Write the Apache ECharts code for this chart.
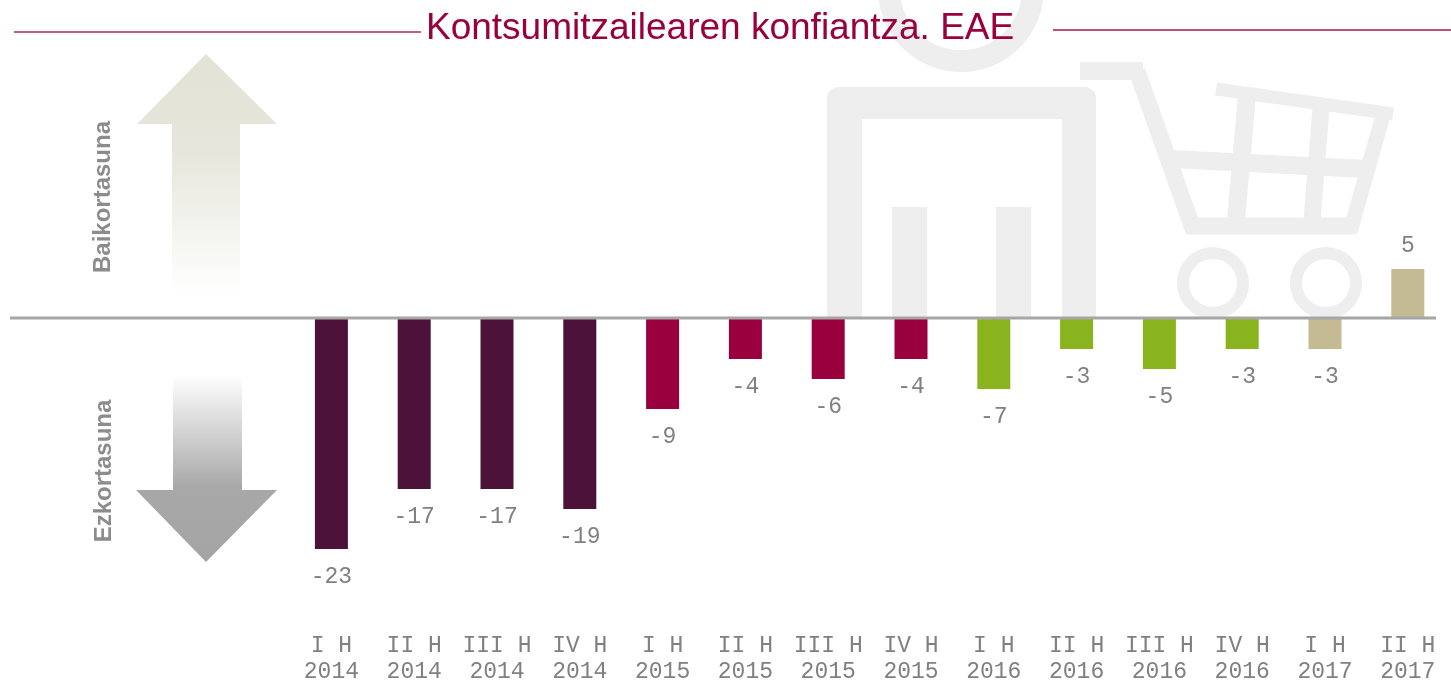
<!DOCTYPE html>
<html>
<head>
<meta charset="utf-8">
<style>html,body{margin:0;padding:0;background:#fff}#main{width:1451px;height:681px}</style>
<script src="https://cdn.jsdelivr.net/npm/echarts@6/dist/echarts.min.js"></script>
</head>
<body>
<div id="main"></div>
<script>
var categories = ['I H\n2014', 'II H\n2014', 'III H\n2014', 'IV H\n2014', 'I H\n2015', 'II H\n2015', 'III H\n2015', 'IV H\n2015', 'I H\n2016', 'II H\n2016', 'III H\n2016', 'IV H\n2016', 'I H\n2017', 'II H\n2017']
var values = [-23, -17, -17, -19, -9, -4, -6, -4, -7, -3, -5, -3, -3, 5]
var titleText = 'Kontsumitzailearen konfiantza. EAE'
var upText = 'Baikortasuna'
var downText = 'Ezkortasuna'

var yearColors = { 2014: '#4d1239', 2015: '#99003d', 2016: '#89b41e', 2017: '#c4ba94' }
var wmColor = '#eeeeee'

function wmLine(points, width) {
  return { type: 'polyline', z: 0, shape: { points: points }, style: { stroke: wmColor, lineWidth: width, fill: null } }
}
function wmRect(x, y, w, h, r) {
  return { type: 'rect', z: 0, shape: { x: x, y: y, width: w, height: h, r: r || 0 }, style: { fill: wmColor } }
}
function wmWheel(cx) {
  return { type: 'circle', z: 0, shape: { cx: cx, cy: 283, r: 30 }, style: { stroke: wmColor, lineWidth: 12, fill: null } }
}

var graphics = [
  // watermark, person
  { type: 'circle', z: 0, shape: { cx: 961, cy: -11, r: 72 }, style: { stroke: wmColor, lineWidth: 22, fill: null } },
  wmRect(827, 87, 269, 32, [12, 12, 0, 0]),
  wmRect(827, 87, 35, 231, [12, 0, 0, 0]),
  wmRect(1062, 87, 34, 231, [0, 12, 0, 0]),
  wmRect(892, 207, 35, 111),
  wmRect(996, 207, 35, 111),
  // watermark, cart
  wmLine([[1080, 71], [1143, 71]], 18),
  wmLine([[1137, 71], [1192, 226], [1355, 226]], 17),
  wmLine([[1216, 89], [1393, 114]], 13),
  wmLine([[1384, 112], [1350, 232]], 15),
  wmLine([[1172, 159], [1365, 169]], 18),
  wmLine([[1247, 95], [1236, 220]], 18),
  wmLine([[1321, 108], [1312, 220]], 17),
  wmWheel(1213),
  wmWheel(1326),
  // arrows
  {
    type: 'polygon', z: 1,
    shape: { points: [[206, 54], [277, 124], [240, 124], [240, 296], [172, 296], [172, 124], [137, 124]] },
    style: { fill: new echarts.graphic.LinearGradient(0, 0, 0, 1, [
      { offset: 0, color: '#e2e2d6' }, { offset: 0.4, color: '#e6e6dc' }, { offset: 1, color: '#ffffff' }
    ]) }
  },
  {
    type: 'polygon', z: 1,
    shape: { points: [[173, 375], [242, 375], [242, 490], [277, 490], [206, 562], [136, 490], [173, 490]] },
    style: { fill: new echarts.graphic.LinearGradient(0, 0, 0, 1, [
      { offset: 0, color: '#ffffff' }, { offset: 0.6, color: '#a8a8a8' }, { offset: 1, color: '#a4a4a4' }
    ]) }
  },
  // title rules
  { type: 'line', z: 1, shape: { x1: 14, y1: 32, x2: 421, y2: 32 }, style: { stroke: '#b2295f', lineWidth: 1.5 } },
  { type: 'line', z: 1, shape: { x1: 1053, y1: 30, x2: 1451, y2: 30 }, style: { stroke: '#a8144f', lineWidth: 1.5 } },
  // baseline
  { type: 'line', z: 5, shape: { x1: 10, y1: 318, x2: 1436, y2: 318 }, style: { stroke: '#a6a6a6', lineWidth: 3 } },
  // side labels
  {
    type: 'text', z: 2, x: 103, y: 197, rotation: Math.PI / 2,
    style: { text: upText, fill: '#8c8c8c', font: 'bold 24px "Liberation Sans"', align: 'center', verticalAlign: 'middle' }
  },
  {
    type: 'text', z: 2, x: 104, y: 471, rotation: Math.PI / 2,
    style: { text: downText, fill: '#8c8c8c', font: 'bold 24px "Liberation Sans"', align: 'center', verticalAlign: 'middle' }
  },
  {
    type: 'text', z: 2, x: 426, y: 29,
    style: { text: titleText, fill: '#99003d', font: '37px "Liberation Sans"', align: 'left', verticalAlign: 'middle' }
  }
]

// 5 sits a bit closer to its bar than the negative labels do
var barData = values.map(function(v) {
  return { value: v, label: { distance: v > 0 ? 12 : 16 } }
})

var chart = echarts.init(document.getElementById('main'))
chart.setOption({
  animation: false,
  backgroundColor: '#ffffff',
  grid: { left: 290, width: 1159.2, top: 69, height: 550, outerBoundsMode: 'none' },
  xAxis: {
    type: 'category',
    data: categories,
    position: 'bottom',
    axisLine: { show: false, onZero: false },
    axisTick: { show: false },
    axisLabel: {
      interval: 0,
      margin: 14,
      color: '#808080',
      fontFamily: 'Liberation Mono',
      fontSize: 23,
      lineHeight: 26
    }
  },
  yAxis: { type: 'value', min: -30, max: 25, interval: 5, show: false, splitLine: { show: false } },
  series: [{
    type: 'bar',
    data: barData,
    barWidth: 33,
    itemStyle: {
      color: function(p) {
        return yearColors[categories[p.dataIndex].split('\n')[1]]
      }
    },
    label: {
      show: true,
      position: 'outside',
      color: '#808080',
      fontFamily: 'Liberation Mono',
      fontSize: 23
    },
    z: 3
  }],
  graphic: { elements: graphics }
})
</script>
</body>
</html>
